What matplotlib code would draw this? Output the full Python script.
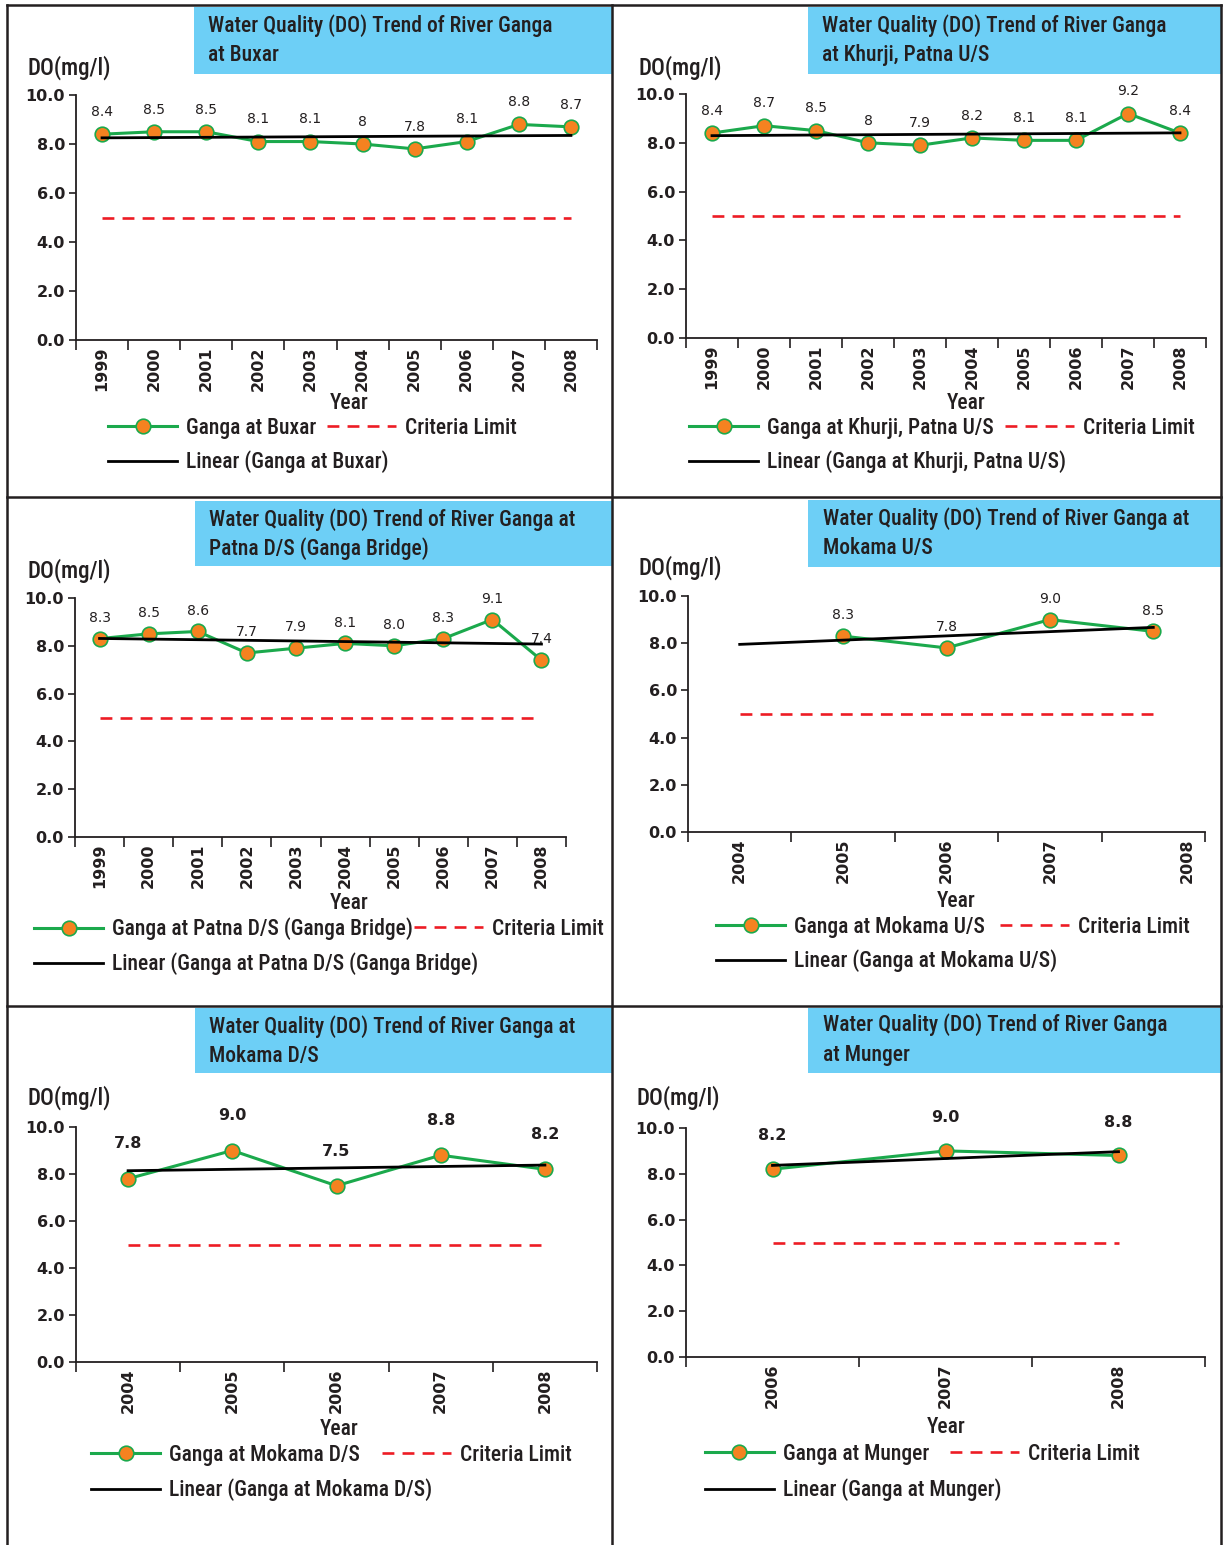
import numpy as np
import matplotlib
matplotlib.use("Agg")
import matplotlib.pyplot as plt
from matplotlib import font_manager as fm
from matplotlib.lines import Line2D
from matplotlib.patches import Rectangle
from matplotlib.transforms import ScaledTranslation

W, H, DPI = 1224, 1545, 100

# narrow sans face for captions if present, otherwise Liberation Sans with smaller sizes
_names = {f.name for f in fm.fontManager.ttflist}
if "Roboto Condensed" in _names:
    FONT, SCALE = "Roboto Condensed", 1.0
else:
    FONT, SCALE = "Liberation Sans", 0.86
NUM_FONT = ["DejaVu Sans"]
plt.rcParams['font.family'] = [FONT, 'DejaVu Sans']

# ---------------- data ----------------
years_1999_2008 = ["1999", "2000", "2001", "2002", "2003",
                   "2004", "2005", "2006", "2007", "2008"]
years_2004_2008 = ["2004", "2005", "2006", "2007", "2008"]
years_2006_2008 = ["2006", "2007", "2008"]

do_buxar = [8.4, 8.5, 8.5, 8.1, 8.1, 8.0, 7.8, 8.1, 8.8, 8.7]
do_khurji = [8.4, 8.7, 8.5, 8.0, 7.9, 8.2, 8.1, 8.1, 9.2, 8.4]
do_patna_ds = [8.3, 8.5, 8.6, 7.7, 7.9, 8.1, 8.0, 8.3, 9.1, 7.4]
do_mokama_us = [None, 8.3, 7.8, 9.0, 8.5]
do_mokama_ds = [7.8, 9.0, 7.5, 8.8, 8.2]
do_munger = [8.2, 9.0, 8.8]

criteria_limit = 5.0

stations = ["Ganga at Buxar", "Ganga at Khurji, Patna U/S",
            "Ganga at Patna D/S (Ganga Bridge)", "Ganga at Mokama U/S",
            "Ganga at Mokama D/S", "Ganga at Munger"]
trend_labels = ["Linear (Ganga at Buxar)", "Linear (Ganga at Khurji, Patna U/S)",
                "Linear (Ganga at Patna D/S (Ganga Bridge)",
                "Linear (Ganga at Mokama U/S)", "Linear (Ganga at Mokama D/S)",
                "Linear (Ganga at Munger)"]
titles = [("Water Quality (DO) Trend of River Ganga", "at Buxar"),
          ("Water Quality (DO) Trend of River Ganga", "at Khurji, Patna U/S"),
          ("Water Quality (DO) Trend of River Ganga at", "Patna D/S (Ganga Bridge)"),
          ("Water Quality (DO) Trend of River Ganga at", "Mokama U/S"),
          ("Water Quality (DO) Trend of River Ganga at", "Mokama D/S"),
          ("Water Quality (DO) Trend of River Ganga", "at Munger")]

series = [(years_1999_2008, do_buxar), (years_1999_2008, do_khurji),
          (years_1999_2008, do_patna_ds), (years_2004_2008, do_mokama_us),
          (years_2004_2008, do_mokama_ds), (years_2006_2008, do_munger)]

# ---------------- style ----------------
GREEN = "#1BA94C"
ORANGE = "#F58220"
RED = "#ED1C24"
BLUE_BOX = "#6DCFF6"
INK = "#231F20"
DASH = (4.5, 3.1)

FS_TITLE = 15.5 * SCALE
FS_TEXT = 15.5 * SCALE
FS_TICK = 11.5
CAP_WEIGHT = "medium"

# layout in pixels
axes_px = [(76, 597, 95, 340), (686, 1206, 94, 338), (75, 566, 598, 837),
           (688, 1205, 596, 832), (76, 597, 1127, 1362), (686, 1205, 1128, 1357)]
title_box_px = [(194, 7, 612, 74), (808, 7, 1221, 74), (195, 501, 612, 566),
                (808, 500, 1221, 567), (195, 1008, 612, 1073), (808, 1008, 1221, 1073)]
title_text_px = [(208, 26, 55), (822, 26, 55), (209, 520, 549),
                 (823, 519, 548), (209, 1027, 1056), (823, 1025, 1055)]
ylabel_px = [(28, 68), (638, 68), (28, 571), (638, 568), (28, 1098), (636, 1098)]
xlabel_px = [(349, 403), (966, 403), (349, 903), (956, 901), (339, 1429), (946, 1427)]
legend_px = [(108, 428, 327, 462), (689, 428, 1005, 462),
             (34, 929, 414, 964), (716, 927, 1000, 961),
             (91, 1455, 382, 1490), (705, 1454, 950, 1490)]
label_style = [("g", 16, 10, "normal"), ("g", 16, 10, "normal"),
               (".1f", 15, 10, "normal"), (".1f", 15, 10, "normal"),
               (".1f", 25, 11.5, "bold"), (".1f", 24, 11.5, "bold")]


def fx(x):
    return x / W


def fy(y):
    return 1 - y / H


fig = plt.figure(figsize=(W / DPI, H / DPI), dpi=DPI)
fig.patch.set_facecolor("white")

# panel frame lines
for (x0, y0, x1, y1) in [(7, 5, 1221, 5), (7, 5, 7, 1545), (1221, 5, 1221, 1545),
                         (612, 5, 612, 1545), (7, 497, 1221, 497), (7, 1006, 1221, 1006)]:
    fig.add_artist(Line2D([fx(x0), fx(x1)], [fy(y0), fy(y1)],
                          color=INK, lw=1.8, transform=fig.transFigure, zorder=5))


def legend_entry(handle, label, x, y):
    em = FS_TEXT * DPI / 72
    leg = fig.legend(handles=[handle], labels=[label], loc="center left",
                     bbox_to_anchor=(fx(x), fy(y)), frameon=False,
                     prop={"size": FS_TEXT, "weight": CAP_WEIGHT},
                     handlelength=69 / em, handletextpad=9 / em,
                     borderpad=0, borderaxespad=0, numpoints=1)
    for t in leg.get_texts():
        t.set_color(INK)
    return leg


for i in range(6):
    cats, vals = series[i]
    n = len(cats)
    left, right, top, bottom = axes_px[i]
    ax = fig.add_axes([fx(left), fy(bottom), (right - left) / W, (bottom - top) / H])

    xs = np.arange(n)
    y = np.array([np.nan if v is None else v for v in vals], dtype=float)
    ok = ~np.isnan(y)

    # criteria limit
    ax.plot([xs[0], xs[-1]], [criteria_limit, criteria_limit], color=RED, lw=1.9,
            dashes=DASH, zorder=2)
    # observed DO
    ax.plot(xs[ok], y[ok], color=GREEN, lw=2.2, marker="o", ms=10.5,
            mfc=ORANGE, mec=GREEN, mew=1.2, zorder=3)
    # linear trend over the full category range
    slope, intercept = np.polyfit(xs[ok], y[ok], 1)
    ax.plot([xs[0], xs[-1]], [intercept, intercept + slope * xs[-1]],
            color="black", lw=2.0, zorder=4)

    fmt, off, fs, fw = label_style[i]
    for xv, v in zip(xs[ok], y[ok]):
        ax.annotate(format(v, fmt), (xv, v), xytext=(0, off), textcoords="offset points",
                    ha="center", va="center", fontsize=fs, fontweight=fw,
                    family=NUM_FONT, color=INK)

    ax.set_xlim(-0.5, n - 0.5)
    ax.set_ylim(0, 10)
    yt = np.arange(0, 10.1, 2)
    ax.set_yticks(yt)
    ax.set_yticklabels([f"{t:.1f}" for t in yt], fontsize=FS_TICK, fontweight="bold",
                       family=NUM_FONT, color=INK)
    ax.set_xticks(xs)
    ax.set_xticklabels(cats, rotation=90, fontsize=FS_TICK, fontweight="bold",
                       family=NUM_FONT, color=INK)
    ax.set_xticks(np.arange(-0.5, n, 1.0), minor=True)
    ax.tick_params(axis="x", which="major", length=0, pad=5)
    ax.tick_params(axis="x", which="minor", length=7, width=1.2, color=INK, direction="out")
    ax.tick_params(axis="y", length=5, width=1.2, color=INK, pad=3, direction="out")
    for s in ["top", "right"]:
        ax.spines[s].set_visible(False)
    for s in ["left", "bottom"]:
        ax.spines[s].set_color(INK)
        ax.spines[s].set_linewidth(1.3)
    ax.patch.set_alpha(0)

    if i == 3:
        lab = ax.get_xticklabels()[-1]
        lab.set_transform(lab.get_transform() + ScaledTranslation(0.34, 0, fig.dpi_scale_trans))

    # title box
    bx0, by0, bx1, by1 = title_box_px[i]
    fig.add_artist(Rectangle((fx(bx0), fy(by1)), (bx1 - bx0) / W, (by1 - by0) / H,
                             transform=fig.transFigure, facecolor=BLUE_BOX,
                             edgecolor="none", zorder=0))
    tx, ty1, ty2 = title_text_px[i]
    for line, ty in zip(titles[i], (ty1, ty2)):
        fig.text(fx(tx), fy(ty), line, fontsize=FS_TITLE, fontweight=CAP_WEIGHT,
                 color=INK, va="center", ha="left")

    # axis captions
    fig.text(fx(ylabel_px[i][0]), fy(ylabel_px[i][1]), "DO(mg/l)", fontsize=16.5 * SCALE,
             fontweight=CAP_WEIGHT, color=INK, va="center", ha="left")
    fig.text(fx(xlabel_px[i][0]), fy(xlabel_px[i][1]), "Year", fontsize=FS_TEXT,
             fontweight=CAP_WEIGHT, color=INK, va="center", ha="center")

    # legend entries
    lx1, ly1, lx2, ly2 = legend_px[i]
    h_series = Line2D([], [], color=GREEN, lw=2.2, marker="o", ms=10.5,
                      mfc=ORANGE, mec=GREEN, mew=1.2)
    h_limit = Line2D([], [], color=RED, lw=1.9, dashes=DASH)
    h_trend = Line2D([], [], color="black", lw=2.0)
    legend_entry(h_series, stations[i], lx1, ly1)
    legend_entry(h_limit, "Criteria Limit", lx2, ly1)
    legend_entry(h_trend, trend_labels[i], lx1, ly2)

fig.savefig("out.png", dpi=DPI, facecolor="white")
